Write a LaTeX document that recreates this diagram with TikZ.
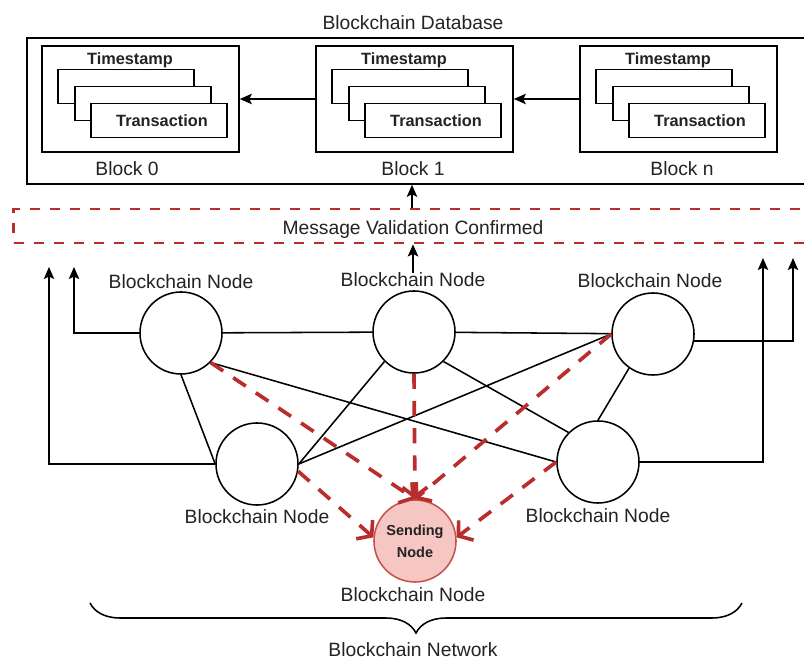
\documentclass[tikz,border=0pt]{standalone}
\usepackage{fontspec}
\setmainfont{Liberation Sans}
\usetikzlibrary{arrows.meta,decorations.pathreplacing}
\definecolor{dred}{RGB}{185,45,45}
\definecolor{sfill}{RGB}{245,198,194}
\definecolor{sdraw}{RGB}{196,84,80}
\definecolor{txt}{RGB}{35,35,35}
\begin{document}
\begin{tikzpicture}[x=0.025cm,y=-0.025cm,
  lbl/.style={text=txt,font=\fontsize{13.7}{16}\selectfont, anchor=base, inner sep=0pt},
  tlbl/.style={text=txt,font=\bfseries\fontsize{11.6}{14}\selectfont, anchor=base, inner sep=0pt},
  outerbox/.style={draw, line width=1.1pt, inner sep=0},
  blockbox/.style={draw, line width=1.1pt, minimum width=4.925cm, minimum height=2.65cm, inner sep=0},
  txbox/.style={draw, fill=white, line width=1.1pt, minimum width=3.4cm, minimum height=0.84cm, inner sep=0},
  bnode/.style={circle, draw, fill=white, line width=1.1pt, minimum size=2.05cm, inner sep=0},
  snode/.style={circle, draw=sdraw, fill=sfill, line width=1.1pt, minimum size=2.05cm, inner sep=0, text=txt,
     align=center, font=\bfseries\fontsize{10.3}{15.5}\selectfont},
  msgbox/.style={draw=dred, line width=2pt, dash pattern=on 0.25cm off 0.25cm, minimum width=19.9cm, minimum height=0.85cm, inner sep=0},
  link/.style={line width=1.1pt},
  arr/.style={line width=1.1pt, -{Stealth[length=0.3cm,width=0.26cm,inset=0.06cm]}},
  rdash/.style={draw=dred, line width=2.6pt, dash pattern=on 0.38cm off 0.3cm, -{Straight Barb[length=0.24cm,width=0.62cm]}},
]
\clip (0,0) rectangle (804,661);
% database
\node[lbl] (title) at (413,30) {Blockchain Database};
\node[outerbox, minimum width=19.575cm, minimum height=3.65cm] (db) at (418.5,111) {};
% blocks
\node[blockbox] (b0) at (140.5,99) {};
\node[blockbox] (b1) at (414.5,99) {};
\node[blockbox] (bn) at (678.5,99) {};
\foreach \L/\n in {42/0,316/1,580/n}{
  \node[txbox] (r1\n) at (\L+84,86.5) {};
  \node[txbox] (r2\n) at (\L+101,103.5) {};
  \node[txbox] (r3\n) at (\L+117,120.5) {};
  \node[tlbl] (ts\n) at (\L+88,65) {Timestamp};
  \node[tlbl] (tr\n) at (\L+120,127) {Transaction};
}
\node[lbl] (lb0) at (127,176) {Block 0};
\node[lbl] (lb1) at (413,176) {Block 1};
\node[lbl] (lbn) at (682,176) {Block n};
\draw[arr] (b1.west) -- (b0.east);
\draw[arr] (bn.west) -- (b1.east);
% message box
\node[msgbox] (msg) at (412,226) {};
\node[lbl] (msgt) at (413,235) {Message Validation Confirmed};
\draw[arr] (msg.north) -- (msg.north |- db.south);
% network nodes
\node[bnode] (N1) at (181,333) {};
\node[bnode] (N2) at (414,332) {};
\node[bnode] (N3) at (653,334) {};
\node[bnode] (N4) at (257,464) {};
\node[bnode] (N5) at (598,462) {};
\node[snode] (S) at (415,541) {Sending\\Node};
\node[lbl] (n1lab) at (181,289) {Blockchain Node};
\node[lbl] (n2lab) at (413,287) {Blockchain Node};
\node[lbl] (n3lab) at (650,288) {Blockchain Node};
\node[lbl] (n4lab) at (257,524) {Blockchain Node};
\node[lbl] (n5lab) at (598,523) {Blockchain Node};
\node[lbl] (slab) at (413,602) {Blockchain Node};
\draw[arr] (n2lab.north) -- (n2lab.north |- msg.south);
% links
\draw[link] (N1) -- (N2);
\draw[link] (N2) -- (N3);
\draw[link] (N1.south) -- (N4.west);
\draw[link] (N1.-45) -- (N5.west);
\draw[link] (N2.225) -- (N4.east);
\draw[link] (N4.east) -- (N3.west);
\draw[link] (N2.-45) -- (N5.135);
\draw[link] (N3.235) -- (N5.north);
% side arrows
\coordinate (l1) at (74,267);
\coordinate (l2) at (49,267);
\coordinate (r1) at (763,258);
\coordinate (r2) at (793,258);
\draw[arr] (N1.west) -| (l1);
\draw[arr] (N4.west) -| (l2);
\draw[arr] (N5.east) -| (r1);
\draw[arr] (N3.-10) -| (r2);
% red dashed
\draw[rdash] (N1.-45) -- (S.north);
\draw[rdash] (N2.south) -- (S.north);
\draw[rdash] (N3.west) -- (S.north);
\draw[rdash] (N4.-10) -- (S.175);
\draw[rdash] (N5.west) -- (S.5);
% brace
\coordinate (br0) at (90,603);
\coordinate (br1) at (742,603);
\draw[link, decorate, decoration={brace, amplitude=0.75cm}] (br1) -- (br0);
\node[lbl] (netlab) at (413,657) {Blockchain Network};
\end{tikzpicture}
\end{document}
